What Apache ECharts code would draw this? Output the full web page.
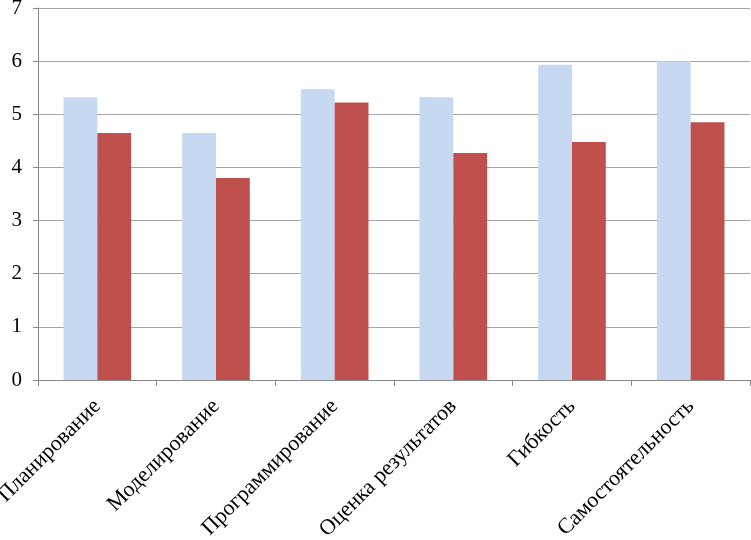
<!DOCTYPE html>
<html><head><meta charset="utf-8">
<script src="https://cdn.jsdelivr.net/npm/echarts@6/dist/echarts.min.js"></script>
<style>html,body{margin:0;padding:0;background:#fff}#c{width:751px;height:540px}</style>
</head><body><div id="c"></div>
<script>
var categories = ["Планирование","Моделирование","Программирование","Оценка результатов","Гибкость","Самостоятельность"];
var series1 = [5.32, 4.65, 5.47, 5.32, 5.93, 6.0];
var series2 = [4.65, 3.80, 5.22, 4.27, 4.48, 4.85];
var chart = echarts.init(document.getElementById('c'));
chart.setOption({
  animation:false,
  grid:{left:38,right:1,top:8,bottom:160,containLabel:false,outerBoundsMode:'none'},
  xAxis:{type:'category',data:categories,
    axisLine:{lineStyle:{color:'#888',width:1}},
    axisTick:{show:true,length:6,lineStyle:{color:'#888'}},
    axisLabel:{rotate:45,interval:0,fontFamily:'Liberation Serif',fontSize:22,color:'#000',margin:23}},
  yAxis:{type:'value',min:0,max:7,interval:1,
    axisLine:{show:true,lineStyle:{color:'#888'}},
    axisTick:{show:true,length:5,lineStyle:{color:'#888'}},
    splitLine:{lineStyle:{color:'#a6a6a6',width:1}},
    axisLabel:{fontFamily:'Liberation Serif',fontSize:21,color:'#000',margin:16}},
  series:[
    {type:'bar',data:series1,itemStyle:{color:'#C6D9F1'},barGap:'0%',barCategoryGap:'43%'},
    {type:'bar',data:series2,itemStyle:{color:'#C0504D'},barGap:'0%',barCategoryGap:'43%'}
  ]
});
</script></body></html>
